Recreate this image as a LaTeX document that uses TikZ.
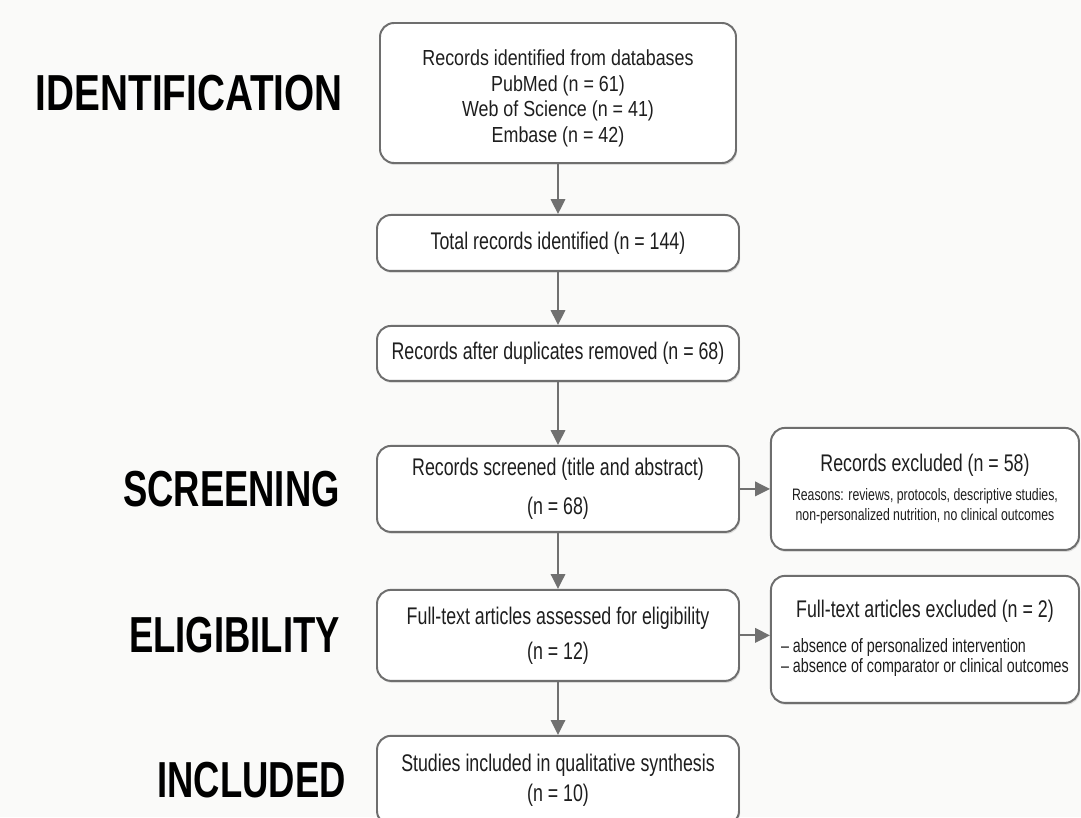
\documentclass[tikz,border=0pt]{standalone}
\usepackage{fontspec}
\setmainfont{Liberation Sans}[FakeStretch=0.74]
\newfontfamily\dbfont{Liberation Sans}[FakeStretch=0.82]
\newfontfamily\stagefont{Liberation Sans}[FakeStretch=0.72]
\newfontfamily\stagewidefont{Liberation Sans}[FakeStretch=0.765]
\usepackage{xcolor}
\usepackage{tikz}
\usetikzlibrary{arrows.meta,positioning,shadows}
\definecolor{boxline}{HTML}{6E6E6E}
\definecolor{arrowgray}{HTML}{707070}
\definecolor{inkgray}{HTML}{1E1E1E}
\definecolor{paper}{HTML}{FAFAF9}

\begin{document}
\begin{tikzpicture}[flowbox/.style={draw=boxline, line width=1.4pt, rounded corners=3.5mm, fill=white, align=center, text=inkgray, inner sep=0pt, minimum width=9.05cm, drop shadow={shadow xshift=0.8pt, shadow yshift=-1.4pt, opacity=0.25}, font=\fontsize{17.1}{18.2}\selectfont}, sidebox/.style={flowbox, minimum width=7.7cm}, stage/.style={inner sep=0pt, text=black, font=\fontsize{36}{40}\stagefont\bfseries}, flow/.style={->, draw=arrowgray, line width=1.4pt}, >={Triangle[length=3.7mm, width=3.6mm]}]
\useasboundingbox (0,0) rectangle (27.025,-20.425);
\fill[paper] (0,0) rectangle (27.025,-20.425);
\node[flowbox, minimum width=8.9cm, minimum height=3.5cm, font=\fontsize{15.5}{18.2}\dbfont] (ident) at (13.95,-2.325) {\rule{0pt}{18.6pt}Records identified from databases\\PubMed (n = 61)\\Web of Science (n = 41)\\Embase (n = 42)};
\node[flowbox, minimum height=1.4cm, below=1.25cm of ident] (total) {Total records identified (n = 144)};
\node[flowbox, minimum height=1.375cm, below=1.325cm of total] (dedup) {Records after duplicates removed (n = 68)};
\node[flowbox, minimum height=2.15cm, below=1.575cm of dedup] (screen) {Records screened (title and abstract)\\[9.4pt](n = 68)};
\node[flowbox, minimum height=2.275cm, below=1.4cm of screen] (elig) {Full-text articles assessed for eligibility\\[6.6pt](n = 12)};
\node[flowbox, minimum height=2.225cm, below=1.325cm of elig] (incl) {Studies included in qualitative synthesis\\[3.1pt](n = 10)};
\node[sidebox, minimum height=3.05cm, right=0.75cm of screen, font=\fontsize{11.8}{14.2}\selectfont] (excl) {{\fontsize{17.1}{18}\selectfont Records excluded (n = 58)}\\[7pt]Reasons: reviews, protocols, descriptive studies,\\non-personalized nutrition, no clinical outcomes};
\node[sidebox, minimum height=3.175cm, right=0.75cm of elig, yshift=-0.1cm, font=\fontsize{13.75}{14.2}\selectfont] (ftexcl) {{\fontsize{17.1}{18}\selectfont Full-text articles excluded (n = 2)}\\[10.6pt]\begin{tabular}[t]{@{}l@{}}– absence of personalized intervention\\– absence of comparator or clinical outcomes\end{tabular}};
\node[stage, left=0.9cm of ident, font=\fontsize{36}{40}\stagewidefont\bfseries] (lident) {IDENTIFICATION};
\node[stage, left=0.9cm of screen] (lscreen) {SCREENING};
\node[stage, left=0.9cm of elig] (lelig) {ELIGIBILITY};
\node[stage, left=0.75cm of incl] (lincl) {INCLUDED};
\draw[flow] (ident) -- (total); \draw[flow] (total) -- (dedup); \draw[flow] (dedup) -- (screen); \draw[flow] (screen) -- (elig); \draw[flow] (elig) -- (incl);
\draw[flow] (screen) -- (excl); \draw[flow] (elig.east) -- (elig.east -| ftexcl.west);
\end{tikzpicture}
\end{document}
